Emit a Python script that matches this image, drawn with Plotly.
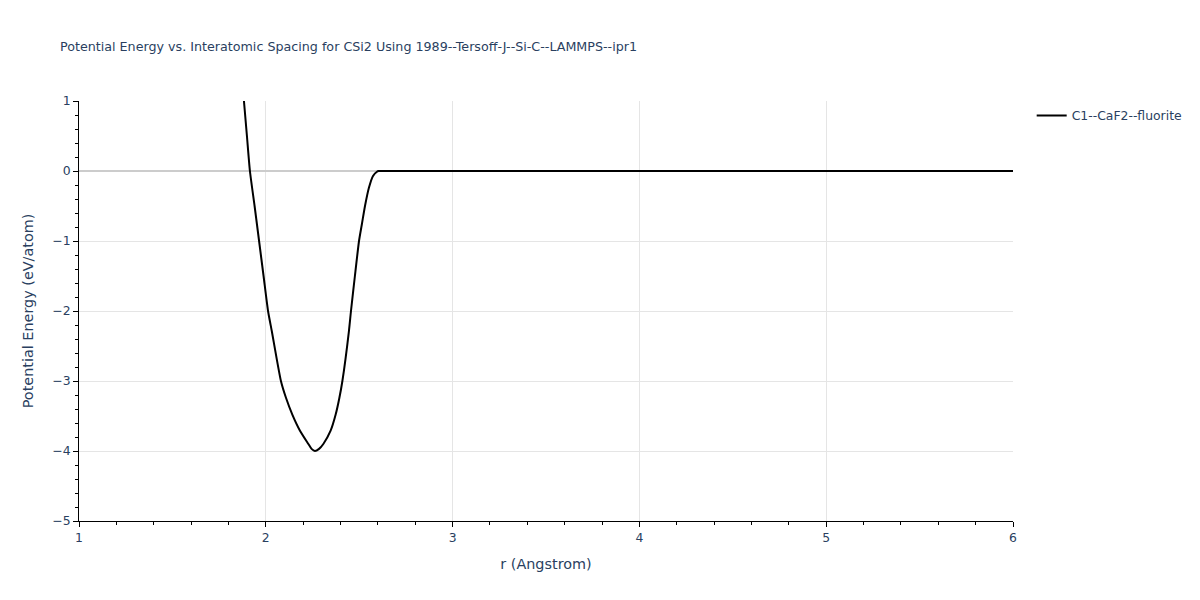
import plotly.graph_objects as go

# values
r_angstrom = [
    1.883, 1.899, 1.915, 1.940, 1.964, 1.988, 2.012, 2.032, 2.081, 2.108,
    2.142, 2.183, 2.228, 2.245, 2.263, 2.285, 2.308, 2.347, 2.374, 2.394,
    2.410, 2.445, 2.456, 2.477, 2.499, 2.515, 2.531, 2.552, 2.574, 2.595,
    2.603, 2.65, 3.0, 3.5, 4.0, 4.5, 5.0, 5.5, 6.0,
]
energy_ev = [
    1.0, 0.5, 0.0, -0.5, -1.0, -1.5, -2.0, -2.286, -3.0, -3.24,
    -3.48, -3.71, -3.90, -3.97, -4.0, -3.97, -3.90, -3.71, -3.48, -3.24,
    -3.0, -2.286, -2.0, -1.5, -1.0, -0.75, -0.5, -0.24, -0.07, -0.01,
    0.0, 0.0, 0.0, 0.0, 0.0, 0.0, 0.0, 0.0, 0.0,
]
series_name = "C1--CaF2--fluorite"

fig = go.Figure()
fig.add_trace(go.Scatter(
    x=r_angstrom, y=energy_ev, mode="lines", name=series_name,
    line=dict(color="black", width=2, shape="spline", smoothing=0.6),
))

axis_common = dict(
    showline=True, linecolor="black", linewidth=1,
    ticks="outside", tickcolor="black", ticklen=5,
    gridcolor="#e5e5e5", mirror=False,
    tickfont=dict(size=12.4),
)

fig.update_layout(
    template="plotly_white",
    width=1200, height=600,
    font=dict(family="DejaVu Sans, Verdana, sans-serif", color="#2a3f5f"),
    title=dict(
        text="Potential Energy vs. Interatomic Spacing for CSi2 Using 1989--Tersoff-J--Si-C--LAMMPS--ipr1",
        x=0.0433, y=0.943, font=dict(size=12.7),
    ),
    margin=dict(l=71, r=195, t=93, b=87),
    showlegend=True,
    legend=dict(x=1.02, y=1, font=dict(size=12.4)),
    xaxis=dict(
        title=dict(text="r (Angstrom)", font=dict(size=14.4)),
        range=[1, 6], dtick=1,
        minor=dict(dtick=0.2, ticks="outside", ticklen=3, tickcolor="black", showgrid=False),
        zeroline=False,
        **axis_common,
    ),
    yaxis=dict(
        title=dict(text="Potential Energy (eV/atom)", font=dict(size=14.4)),
        range=[-5, 1], dtick=1,
        minor=dict(dtick=0.2, ticks="outside", ticklen=3, tickcolor="black", showgrid=False),
        zeroline=True, zerolinecolor="#cccccc", zerolinewidth=2,
        **axis_common,
    ),
)

fig.write_html("out.html")
